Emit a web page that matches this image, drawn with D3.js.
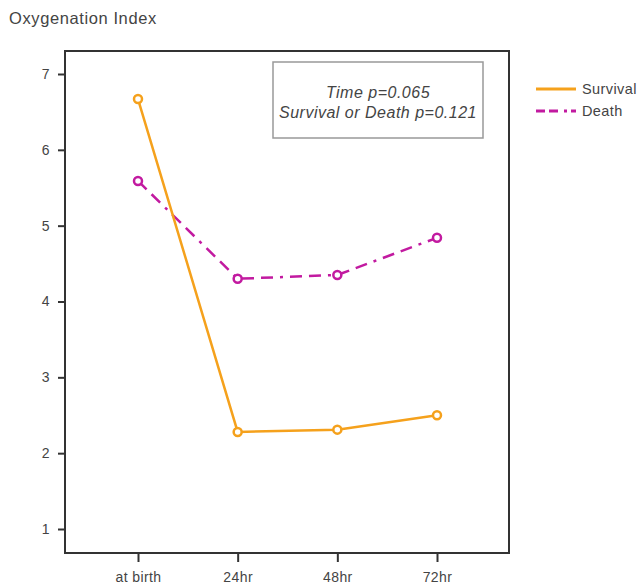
<!DOCTYPE html>
<html>
<head>
<meta charset="utf-8">
<script src="https://cdn.jsdelivr.net/npm/d3@7"></script>
<style>
  body { margin: 0; background: #fff; }
  text { font-family: "Liberation Sans", Arial, sans-serif; fill: #444; }
</style>
</head>
<body>
<svg id="chart" width="640" height="587"></svg>
<script>
var categories = ["at birth", "24hr", "48hr", "72hr"];
var survival = [6.67, 2.28, 2.31, 2.5];
var death = [5.59, 4.3, 4.35, 4.84];
var yTicks = [1, 2, 3, 4, 5, 6, 7];
var seriesNames = ["Survival", "Death"];
var noteLines = ["Time p=0.065", "Survival or Death p=0.121"];

var svg = d3.select("#chart"),
    frame = {left: 65, top: 51, right: 509, bottom: 553};

var x = d3.scalePoint().domain(categories).range([138, 437]),
    y = d3.scaleLinear().domain([1, 7]).range([529, 74]);

var orange = "#f5a11c", magenta = "#c21aa0";

// title
svg.append("text")
    .attr("x", 9).attr("y", 24)
    .attr("font-size", 16.5)
    .attr("letter-spacing", 0.6)
    .text("Oxygenation Index");

// frame
svg.append("rect")
    .attr("x", frame.left).attr("y", frame.top)
    .attr("width", frame.right - frame.left)
    .attr("height", frame.bottom - frame.top)
    .attr("fill", "none")
    .attr("stroke", "#333")
    .attr("stroke-width", 2);

// axes
var yAxis = svg.append("g")
    .attr("transform", "translate(" + frame.left + ",0)")
    .call(d3.axisLeft(y).tickValues(yTicks).tickFormat(d3.format("d")).tickSize(7).tickPadding(8));
var xAxis = svg.append("g")
    .attr("transform", "translate(0," + frame.bottom + ")")
    .call(d3.axisBottom(x).tickSize(9).tickPadding(10));

[xAxis, yAxis].forEach(function(g) {
  g.select(".domain").remove();
  g.selectAll(".tick line").attr("stroke", "#333").attr("stroke-width", 2);
  g.selectAll(".tick text").attr("font-size", 14).attr("fill", "#444")
      .attr("letter-spacing", 0.4)
      .style("font-family", "Liberation Sans, Arial, sans-serif");
});

// annotation box
svg.append("rect")
    .attr("x", 273).attr("y", 62)
    .attr("width", 210).attr("height", 76)
    .attr("fill", "#fff")
    .attr("stroke", "#999")
    .attr("stroke-width", 1.5);
svg.selectAll(".note")
    .data(noteLines)
  .enter().append("text")
    .attr("class", "note")
    .attr("x", 378)
    .attr("y", function(d, i) { return 98 + i * 20; })
    .attr("text-anchor", "middle")
    .attr("font-size", 16)
    .attr("letter-spacing", 0.5)
    .attr("font-style", "italic")
    .text(function(d) { return d; });

var line = d3.line()
    .x(function(d, i) { return x(categories[i]); })
    .y(function(d) { return y(d); });

function drawSeries(values, color, dash) {
  svg.append("path")
      .datum(values)
      .attr("d", line)
      .attr("fill", "none")
      .attr("stroke", color)
      .attr("stroke-width", 2.5)
      .attr("stroke-dasharray", dash);
  svg.selectAll(null)
      .data(values)
    .enter().append("circle")
      .attr("cx", function(d, i) { return x(categories[i]); })
      .attr("cy", function(d) { return y(d); })
      .attr("r", 4)
      .attr("fill", "#fff")
      .attr("stroke", color)
      .attr("stroke-width", 2.5);
}

drawSeries(death, magenta, "12,7,12,7,3,7");
drawSeries(survival, orange, null);

// legend
var legend = svg.append("g");
var legColors = [orange, magenta], legDash = [null, "9,4,9,6,3,4"];
seriesNames.forEach(function(name, i) {
  var ly = 89 + i * 22;
  legend.append("line")
      .attr("x1", 536).attr("x2", 576)
      .attr("y1", ly).attr("y2", ly)
      .attr("stroke", legColors[i])
      .attr("stroke-width", 3)
      .attr("stroke-dasharray", legDash[i]);
  legend.append("text")
      .attr("x", 582).attr("y", ly + 5)
      .attr("font-size", 14.5)
      .attr("letter-spacing", 0.4)
      .text(name);
});
</script>
</body>
</html>
